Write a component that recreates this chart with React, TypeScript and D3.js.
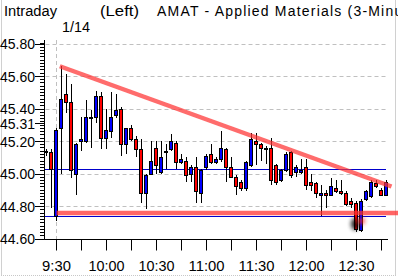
import React from 'react';
import * as d3 from 'd3';

// 3-minute candles, AMAT intraday 1/14
const times = [
  '9:24', '9:27', '9:30', '9:33', '9:36', '9:39', '9:42', '9:45', '9:48', '9:51', '9:54', '9:57',
  '10:00', '10:03', '10:06', '10:09', '10:12', '10:15', '10:18', '10:21', '10:24', '10:27',
  '10:30', '10:33', '10:36', '10:39', '10:42', '10:45', '10:48', '10:51', '10:54', '10:57',
  '11:00', '11:03', '11:06', '11:09', '11:12', '11:15', '11:18', '11:21', '11:24', '11:27',
  '11:30', '11:33', '11:36', '11:39', '11:42', '11:45', '11:48', '11:51', '11:54', '11:57',
  '12:00', '12:03', '12:06', '12:09', '12:12', '12:15', '12:18', '12:21', '12:24', '12:27',
  '12:30', '12:33', '12:36', '12:39', '12:42', '12:45', '12:48',
];
const opens = [
  45.13, 45.13, 44.74, 45.28, 45.49, 45.44, 45.0, 45.2, 45.2, 45.34, 45.35, 45.48,
  45.22, 45.26, 45.36, 45.4, 45.18, 45.28, 45.21, 45.15, 44.88, 45.0,
  45.16, 45.01, 45.14, 45.15, 45.19, 45.07, 45.08, 45.0, 45.04, 44.88,
  45.04, 45.12, 45.07, 45.09, 45.15, 45.04, 44.98, 44.95, 44.91, 45.05,
  45.2, 45.18, 45.16, 45.16, 45.05, 44.96, 45.02, 45.13, 45.01, 45.01,
  45.04, 44.95, 44.94, 44.87, 44.88, 44.87, 44.91, 44.89, 44.88, 44.83,
  44.82, 44.65, 44.84, 44.86, 44.94, 44.9, 44.87,
];
const highs = [
  45.15, 45.15, 45.28, 45.66, 45.61, 45.55, 45.19, 45.35, 45.45, 45.39, 45.51, 45.5,
  45.4, 45.5, 45.49, 45.41, 45.28, 45.3, 45.23, 45.21, 45.0, 45.2,
  45.2, 45.2, 45.18, 45.24, 45.2, 45.12, 45.1, 45.05, 45.1, 45.03,
  45.12, 45.18, 45.1, 45.26, 45.16, 45.1, 44.99, 44.96, 45.08, 45.25,
  45.25, 45.19, 45.17, 45.22, 45.06, 45.03, 45.13, 45.14, 45.05, 45.09,
  45.09, 45.0, 44.95, 44.93, 44.9, 44.97, 44.96, 44.96, 44.89, 44.85,
  44.83, 44.84, 44.9, 44.96, 44.96, 44.91, 44.96,
];
const lows = [
  45.11, 44.79, 44.71, 45.0, 45.37, 44.97, 44.87, 45.14, 45.19, 45.16, 45.31, 45.15,
  45.15, 45.22, 45.34, 45.11, 45.12, 45.2, 45.1, 44.82, 44.78, 44.99,
  45.0, 45.0, 45.03, 45.14, 45.03, 45.06, 44.95, 44.95, 44.82, 44.82,
  45.02, 45.06, 45.06, 45.07, 44.95, 44.97, 44.87, 44.89, 44.89, 45.04,
  45.05, 45.08, 45.06, 44.93, 44.93, 44.95, 45.01, 44.97, 44.98, 45.0,
  44.9, 44.89, 44.85, 44.74, 44.79, 44.86, 44.88, 44.87, 44.8, 44.79,
  44.64, 44.64, 44.83, 44.85, 44.91, 44.86, 44.86,
];
const closes = [
  45.14, 45.03, 45.27, 45.46, 45.44, 45.02, 45.18, 45.21, 45.35, 45.35, 45.48, 45.22,
  45.27, 45.35, 45.39, 45.18, 45.28, 45.21, 45.15, 44.88, 44.99, 45.08,
  45.05, 45.1, 45.13, 45.2, 45.07, 45.09, 44.99, 45.04, 44.89, 45.02,
  45.11, 45.07, 45.09, 45.16, 45.04, 44.98, 44.92, 44.91, 45.07, 45.21,
  45.18, 45.16, 45.16, 44.96, 44.95, 45.02, 45.12, 44.99, 45.04, 45.02,
  44.93, 44.93, 44.88, 44.88, 44.87, 44.92, 44.89, 44.88, 44.81, 44.81,
  44.66, 44.83, 44.89, 44.95, 44.92, 44.87, 44.95,
];

const yLabels = [45.8, 45.6, 45.4, 45.31, 45.2, 45.0, 44.8, 44.6];
const gridLevels = [45.8, 45.6, 45.4, 45.2, 45.0, 44.8];
const xLabels = ['9:30', '10:00', '10:30', '11:00', '11:30', '12:00', '12:30'];
const xTicks = [
  '9:30', '9:45', '10:00', '10:15', '10:30', '10:45', '11:00', '11:15',
  '11:30', '11:45', '12:00', '12:15', '12:30', '12:45',
];
const blueLevels = [45.025, 44.74];
const trendTimes = ['9:32', '12:51'];
const trendValues = [45.66, 44.92];
const supportTimes = ['9:30', '12:55'];
const supportValues = [44.757, 44.757];

const toMin = (t: string) => {
  const [h, m] = t.split(':').map(Number);
  return h * 60 + m;
};

const W = 398;
const H = 276;
const left = 44.5;
const right = 386;
const top = 40;
const bottom = 239.5;
const font = '"Liberation Sans", Arial, sans-serif';

const px = (v: number) => Math.round(v) + 0.5;

export default function App() {
  const x = d3.scaleLinear().domain([toMin('9:30'), toMin('12:45')]).range([56.5, 381.5]);
  const y = d3.scaleLinear().domain([44.6, 45.8]).range([238.5, 43.5]);

  const minorY = d3.range(0, 61).map((k) => 44.6 + k * 0.02);

  const trendLine = d3.line<number>()
    .x((_, i) => x(toMin(trendTimes[i])))
    .y((d) => y(d));
  const supportLine = d3.line<number>()
    .x((_, i) => x(toMin(supportTimes[i])))
    .y((d) => y(d));

  return (
    <svg width={W} height={H} style={{ position: 'absolute', left: 0, top: 0, background: '#fff' }}>
      <defs>
        <filter id="soft" filterUnits="userSpaceOnUse" x={0} y={0} width={W} height={H}>
          <feGaussianBlur stdDeviation="0.7" />
        </filter>
        <filter id="glow" filterUnits="userSpaceOnUse" x={330} y={200} width={50} height={50}>
          <feGaussianBlur stdDeviation="2.2" />
        </filter>
      </defs>
      <rect width={W} height={H} fill="#fff" />
      {/* window frame */}
      <line x1={1.5} x2={1.5} y1={0} y2={275} stroke="#d0d0d0" />
      <line x1={395.5} x2={395.5} y1={0} y2={275} stroke="#d0d0d0" />
      <line x1={1} x2={396} y1={275.5} y2={275.5} stroke="#c8c8c8" strokeDasharray="1,1" />

      {/* title */}
      <text x={4} y={16} fontFamily={font} fontSize={14} textLength={53} lengthAdjust="spacingAndGlyphs">Intraday</text>
      <text x={100} y={16} fontFamily={font} fontSize={14} textLength={39} lengthAdjust="spacingAndGlyphs">(Left)</text>
      <text x={157} y={16} fontFamily={font} fontSize={14} letterSpacing={1.2}>AMAT - Applied Materials  (3-Minute)</text>
      <text x={62} y={32} fontFamily={font} fontSize={14} textLength={28} lengthAdjust="spacingAndGlyphs">1/14</text>

      {/* grid */}
      {gridLevels.map((v) => (
        <line key={v} x1={left + 1} x2={right} y1={px(y(v))} y2={px(y(v))}
          stroke="#c0c0c0" strokeDasharray="4,3" />
      ))}
      <line x1={x(toMin('9:30'))} x2={x(toMin('9:30'))} y1={top} y2={bottom} stroke="#c0c0c0" strokeDasharray="4,3" />

      {/* level lines */}
      {blueLevels.map((v) => (
        <line key={v} x1={left} x2={right} y1={px(y(v))} y2={px(y(v))}
          stroke="#0000cc" strokeWidth={1} />
      ))}

      {/* candles */}
      {times.map((t, i) => {
        const cx = x(toMin(t));
        const o = opens[i];
        const c = closes[i];
        const col = c > o ? '#0000ff' : c < o ? '#ff0000' : '#000';
        const yTop = px(y(Math.max(o, c)));
        const yBot = px(y(Math.min(o, c)));
        return (
          <g key={t}>
            <line x1={cx} x2={cx} y1={Math.round(y(highs[i]))} y2={Math.round(y(lows[i]))} stroke="#000" />
            <rect x={cx - 2} y={yTop} width={3} height={Math.max(1, yBot - yTop)}
              fill={col} stroke="#000" strokeWidth={1} />
          </g>
        );
      })}

      {/* trend lines */}
      <path d={trendLine(trendValues) || ''} stroke="#ff3030" strokeOpacity={0.72} strokeWidth={4.5}
        fill="none" filter="url(#soft)" />
      <path d={supportLine(supportValues) || ''} stroke="#ff3030" strokeOpacity={0.75} strokeWidth={4.5}
        fill="none" filter="url(#soft)" />

      {/* cursor glow */}
      <ellipse cx={355} cy={224} rx={4} ry={6} fill="#000" opacity={0.85} filter="url(#glow)" />
      <ellipse cx={361} cy={221} rx={4} ry={3} fill="#ff2020" opacity={0.8} filter="url(#glow)" />

      {/* y axis */}
      <line x1={left} x2={left} y1={top} y2={bottom} stroke="#000" />
      {minorY.map((v, k) => (
        <line key={k} x1={40} x2={left} y1={px(y(v))} y2={px(y(v))} stroke="#000" />
      ))}
      {yLabels.map((v) => (
        <g key={v}>
          <line x1={35} x2={left} y1={px(y(v))} y2={px(y(v))} stroke="#000" />
          <text x={35} y={y(v) + 5.5} textAnchor="end" fontFamily={font} fontSize={14}
            textLength={35} lengthAdjust="spacingAndGlyphs">{v.toFixed(2)}</text>
        </g>
      ))}

      {/* x axis */}
      <line x1={left} x2={right + 2} y1={bottom} y2={bottom} stroke="#000" />
      {xTicks.map((t) => (
        <line key={t} x1={x(toMin(t))} x2={x(toMin(t))} y1={bottom} y2={bottom + 11} stroke="#000" />
      ))}
      {xLabels.map((t) => (
        <text key={t} x={x(toMin(t))} y={271} textAnchor="middle" fontFamily={font} fontSize={15}
          textLength={t.length * 7.2} lengthAdjust="spacingAndGlyphs">{t}</text>
      ))}
    </svg>
  );
}
